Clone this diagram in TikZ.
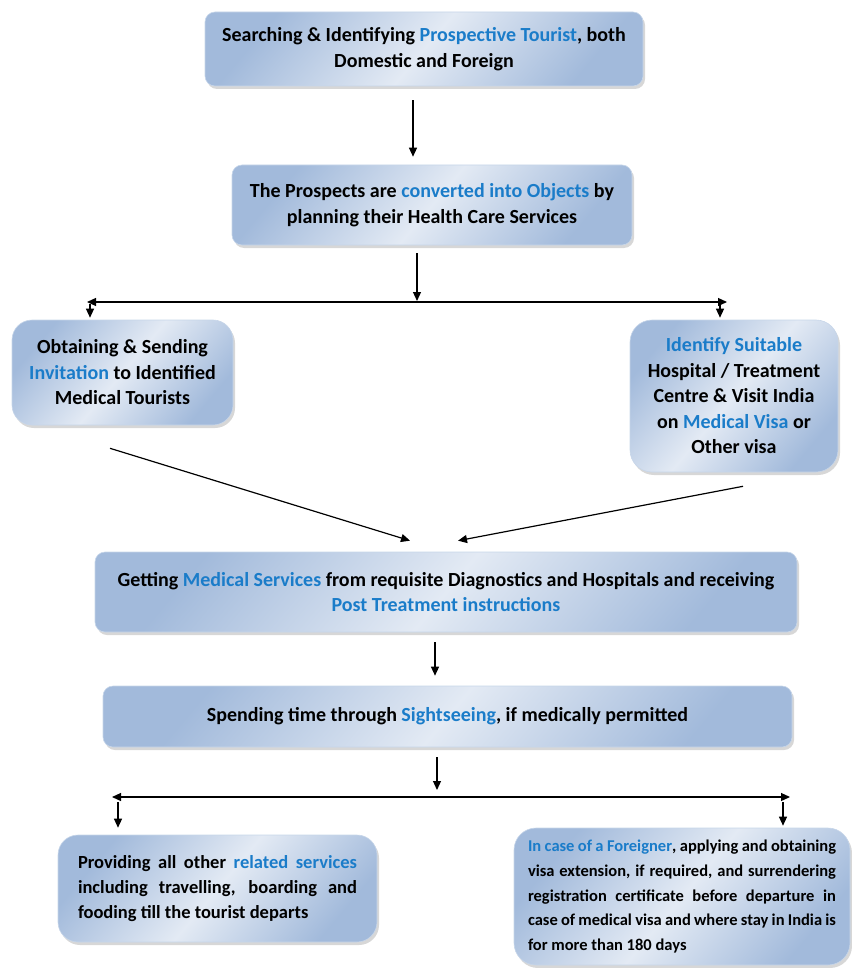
\documentclass[tikz,border=0pt]{standalone}
\usepackage{fontspec}
\setmainfont{Carlito}
\usepackage{xcolor}
\definecolor{accent}{HTML}{1A7CC9}
\definecolor{boxdark}{HTML}{A2BADB}
\definecolor{boxlight}{HTML}{E3EAF4}
\usepackage{tikz}
\usetikzlibrary{positioning,arrows.meta,shadows}

\newcommand{\hl}[1]{\textcolor{accent}{#1}}

\tikzset{
  flowbox/.style={draw=boxdark!60,line width=0.6pt,rounded corners=10pt,
    top color=boxdark,bottom color=boxdark,middle color=boxlight,shading angle=50,
    drop shadow={shadow xshift=2pt,shadow yshift=-3pt,fill=black!35,opacity=0.45},
    font=\bfseries\fontsize{20}{25.5}\selectfont,align=center,inner sep=0pt},
  flow/.style={-{Triangle[length=9pt,width=8pt]},line width=1.2pt},
  twoway/.style={{Triangle[length=9pt,width=8pt]}-{Triangle[length=9pt,width=8pt]},line width=1.2pt}
}

\begin{document}
\begin{tikzpicture}[x=1pt,y=-1pt]
  \useasboundingbox (0,0) rectangle (851,968);

  % top of the chain
  \node[flowbox,minimum width=438pt,minimum height=74pt] (search) at (424,49)
    {Searching \& Identifying \hl{Prospective Tourist}, both\\Domestic and Foreign};
  \node[flowbox,minimum width=400pt,minimum height=80pt] (prospects) at (432,205)
    {The Prospects are \hl{converted into Objects} by\\planning their Health Care Services};

  % two ways in
  \node[flowbox,rounded corners=20pt,minimum width=221pt,minimum height=105pt] (invite) at (122.5,372.5)
    {Obtaining \& Sending\\\hl{Invitation} to Identified\\Medical Tourists};
  \node[flowbox,rounded corners=22pt,minimum width=208pt,minimum height=152pt] (hospital) at (734,396)
    {\hl{Identify Suitable}\\Hospital / Treatment\\Centre \& Visit India\\on \hl{Medical Visa} or\\Other visa};

  \node[flowbox,minimum width=702pt,minimum height=80pt] (treatment) at (446,592)
    {Getting \hl{Medical Services} from requisite Diagnostics and Hospitals and receiving\\\hl{Post Treatment instructions}};
  \node[flowbox,minimum width=689pt,minimum height=61pt] (sightsee) at (447.5,716.5)
    {Spending time through \hl{Sightseeing}, if medically permitted};

  % last step
  \node[flowbox,rounded corners=20pt,minimum width=319pt,minimum height=107pt,text width=279pt,align=justify,
    font=\bfseries\fontsize{18.5}{25}\selectfont] (services) at (217.5,888.5)
    {Providing all other \hl{related services}\linebreak including travelling, boarding and\linebreak fooding till the tourist departs};
  \node[flowbox,rounded corners=22pt,minimum width=336pt,minimum height=137pt,text width=308pt,align=justify,
    font=\bfseries\fontsize{16.5}{24.8}\selectfont] (foreigner) at (682,896.5)
    {\hl{In case of a Foreigner}, applying and obtaining\linebreak visa extension, if required, and surrendering\linebreak registration certificate before departure in\linebreak case of medical visa and where stay in India is\linebreak for more than 180 days};

  \coordinate (split1) at (417,301);
  \coordinate (split1L) at (87,302);
  \coordinate (split1R) at (727,302);
  \coordinate (split2) at (437,790);
  \coordinate (split2L) at (112,797);
  \coordinate (split2R) at (790,797);

  \draw[flow] ([xshift=-11pt,yshift=-14pt]search.south) -- ([xshift=-19pt,yshift=8pt]prospects.north);
  \draw[flow] ([xshift=-15pt,yshift=-8pt]prospects.south) -- (split1);
  \draw[twoway] (split1L) -- (split1R);
  \draw[flow] ([xshift=3pt,yshift=-2pt]split1L) -- ([xshift=-32.5pt,yshift=2pt]invite.north);
  \draw[flow] ([xshift=-7pt,yshift=-2pt]split1R) -- ([xshift=-14pt,yshift=2pt]hospital.north);

  \draw[flow] ([xshift=-12.5pt,yshift=-23pt]invite.south) -- ([xshift=-36pt,yshift=11pt]treatment.north);
  \draw[flow] ([xshift=9pt,yshift=-14pt]hospital.south) -- ([xshift=12pt,yshift=11pt]treatment.north);

  \draw[flow] ([xshift=-11pt,yshift=-10pt]treatment.south) -- ([xshift=-12.5pt,yshift=10pt]sightsee.north);
  \draw[flow] ([xshift=-10.5pt,yshift=-10pt]sightsee.south) -- (split2);
  \draw[twoway] (split2L) -- (split2R);
  \draw[flow] ([xshift=6pt,yshift=-5pt]split2L) -- ([xshift=-99.5pt,yshift=7pt]services.north);
  \draw[flow] ([xshift=-7pt,yshift=-5pt]split2R) -- ([xshift=101pt,yshift=2pt]foreigner.north);
\end{tikzpicture}
\end{document}
